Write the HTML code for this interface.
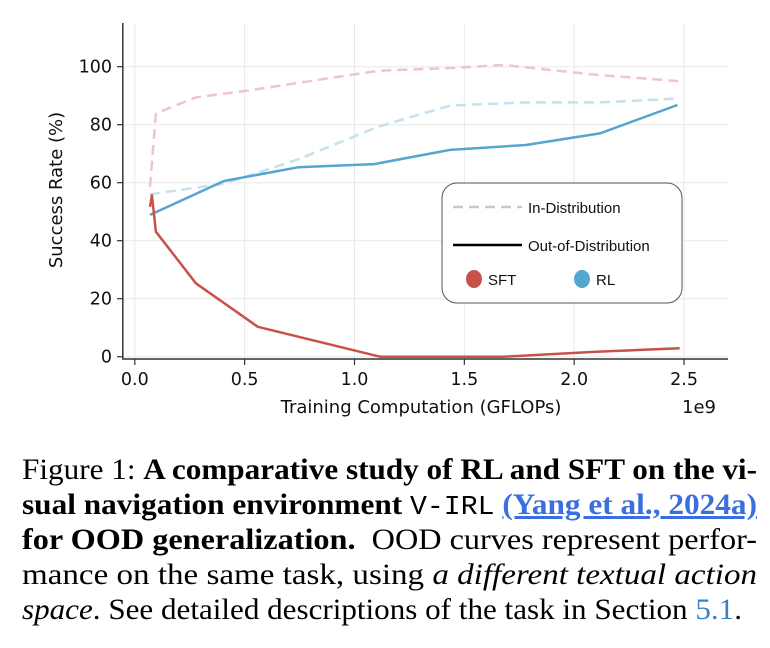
<!DOCTYPE html>
<html><head><meta charset="utf-8"><style>
body{margin:0;background:#fff;width:770px;height:648px;overflow:hidden;position:relative}
svg{position:absolute;left:0;top:0}
.cap{position:absolute;left:22px;width:760px;font-family:"Liberation Serif",serif;font-size:30px;color:#000;line-height:35px}
.ln{display:block;white-space:nowrap;height:35px;transform-origin:0 50%;width:max-content}
.mono{font-family:"Liberation Mono",monospace;font-size:27px}
a{color:#3b6fe0;text-decoration:underline;font-weight:bold}
</style></head><body>
<svg id="chart" width="770" height="430" font-family="DejaVu Sans, Liberation Sans, sans-serif"></svg>
<div class="cap" style="top:452px">
<span class="ln">Figure 1: <b>A comparative study of RL and SFT on the vi-</b></span>
<span class="ln"><b>sual navigation environment</b> <span class="mono">V-IRL</span> <a>(Yang et al., 2024a)</a></span>
<span class="ln"><b>for OOD generalization.</b>&nbsp; OOD curves represent perfor-</span>
<span class="ln">mance on the same task, using <i>a different textual action</i></span>
<span class="ln"><i>space</i>. See detailed descriptions of the task in Section <span style="color:#3b7fc4">5.1</span>.</span>
</div>
<script>
const xTicks=[0,0.5,1.0,1.5,2.0,2.5];
const xTickLabels=["0.0","0.5","1.0","1.5","2.0","2.5"];
const yTicks=[0,20,40,60,80,100];
const sftOodX=[0.069,0.078,0.096,0.278,0.56,1.116,1.68,2.1,2.48];
const sftOodY=[51.7,55.7,43.1,25.3,10.3,0,0,1.7,2.9];
const sftIdX=[0.069,0.096,0.278,0.506,1.107,1.45,1.68,2.1,2.48];
const sftIdY=[58.6,83.9,89.4,91.7,98.6,99.6,100.6,97.2,95];
const rlOodX=[0.069,0.406,0.743,1.089,1.435,1.78,2.117,2.47];
const rlOodY=[48.9,60.6,65.3,66.4,71.3,73,77,86.8];
const rlIdX=[0.069,0.406,0.743,1.107,1.435,1.78,2.117,2.47];
const rlIdY=[56,59.7,68,79.3,86.6,87.7,87.7,89];
const svg=document.getElementById('chart');
const NS='http://www.w3.org/2000/svg';
const sx=v=>134.8+v*219.7, sy=v=>356.7-v*2.9;
function mk(t,a,p){const e=document.createElementNS(NS,t);for(const k in a)e.setAttribute(k,a[k]);(p||svg).appendChild(e);return e;}
yTicks.forEach(v=>{
  const g=mk('line',{x1:122.8,x2:728,y1:sy(v),y2:sy(v),stroke:'#e8e8e8','stroke-width':1});
  
  
  mk('line',{x1:117,x2:122.8,y1:sy(v),y2:sy(v),stroke:'#333','stroke-width':1.2});
  const t=mk('text',{x:112,y:sy(v)+6,'text-anchor':'end','font-size':17.5,fill:'#111'});t.textContent=v;
  
  
});
xTicks.forEach((v,i)=>{
  const g=mk('line',{x1:sx(v),x2:sx(v),y1:23,y2:359,stroke:'#e8e8e8','stroke-width':1});
  
  
  mk('line',{x1:sx(v),x2:sx(v),y1:359,y2:365,stroke:'#333','stroke-width':1.2});
  const t=mk('text',{x:sx(v),y:385,'text-anchor':'middle','font-size':17.5,fill:'#111'});t.textContent=xTickLabels[i];
  
  
});
const ax=mk('path',{d:'M122.8 23 V359 H728',fill:'none',stroke:'#333','stroke-width':1.5});


function series(xs,ys,col,dash,name){
  const d=xs.map((x,i)=>(i?'L':'M')+sx(x).toFixed(1)+' '+sy(ys[i]).toFixed(1)).join(' ');
  const p=mk('path',{d:d,fill:'none',stroke:col,'stroke-width':2.5,'stroke-linejoin':'round'});
  if(dash)p.setAttribute('stroke-dasharray','10 6');
  
  
}
series(sftIdX,sftIdY,'#efc6c6',true,'sft-in-distribution-line');
series(rlIdX,rlIdY,'#c4e1ee',true,'rl-in-distribution-line');
series(rlOodX,rlOodY,'#55a6cf',false,'rl-ood-line');
series(sftOodX,sftOodY,'#c8524a',false,'sft-ood-line');
const lg=mk('g',{});


mk('rect',{x:442,y:183,width:240,height:120,rx:15,fill:'#fff','fill-opacity':0.9,stroke:'#555','stroke-width':1},lg);
mk('line',{x1:453,x2:522,y1:207,y2:207,stroke:'#c8c8c8','stroke-width':2.5,'stroke-dasharray':'10 6'},lg);
mk('line',{x1:453,x2:522,y1:245,y2:245,stroke:'#000','stroke-width':2.5},lg);
mk('ellipse',{cx:474,cy:279,rx:8,ry:9,fill:'#c8524a'},lg);
mk('ellipse',{cx:582,cy:279,rx:8,ry:9,fill:'#55a6cf'},lg);
[['In-Distribution',528,213],['Out-of-Distribution',528,251],['SFT',488,285],['RL',596,285]].forEach(a=>{
  const t=mk('text',{x:a[1],y:a[2],'font-size':15,fill:'#111','font-family':'Liberation Sans, sans-serif'},lg);t.textContent=a[0];
  
  
});
const yl=mk('text',{x:0,y:0,'font-size':18,fill:'#111','text-anchor':'middle',transform:'translate(62,190) rotate(-90)'});yl.textContent='Success Rate (%)';


const xl=mk('text',{x:421,y:413,'font-size':18,fill:'#111','text-anchor':'middle'});xl.textContent='Training Computation (GFLOPs)';


const ex=mk('text',{x:682,y:413,'font-size':18,fill:'#111'});ex.textContent='1e9';


const targets=[735,735,735,735,720];
document.querySelectorAll('.ln').forEach((l,i)=>{const w=l.getBoundingClientRect().width;l.style.transform='scaleX('+(targets[i]/w)+')';});
</script>
</body></html>
